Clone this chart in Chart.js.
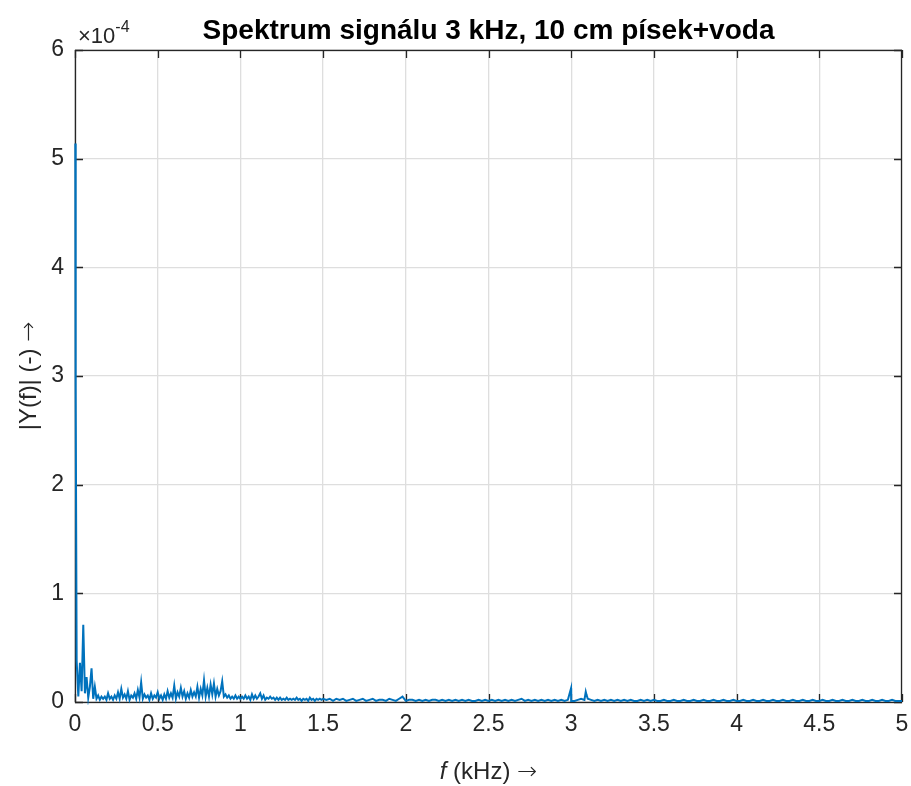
<!DOCTYPE html>
<html>
<head>
<meta charset="utf-8">
<script src="https://cdn.jsdelivr.net/npm/chart.js@4.4.0/dist/chart.umd.min.js"></script>
<style>
  html, body { margin: 0; padding: 0; background: #fff; }
  #wrap { width: 911px; height: 786px; position: relative; }
</style>
</head>
<body>
<div id="wrap"><canvas id="spectrum"></canvas></div>
<script>
// Spectrum values in units of 1e-4
const titleText = 'Spektrum signálu 3 kHz, 10 cm písek+voda';
const xTicks = [0, 0.5, 1, 1.5, 2, 2.5, 3, 3.5, 4, 4.5, 5];
const yTicks = [0, 1, 2, 3, 4, 5, 6];

// DC peak right at 0 kHz
const dcFreq = [0.002, 0.004];
const dcValue = [5.14, 2.9];

// low band: 0.01 .. 1.50 kHz, step 0.01 kHz
const lowStart = 0.01, lowStep = 0.01;
const lowBand = [
  0.38, 0.05, 0.36, 0.10, 0.71, 0.08, 0.23, 0.04, 0.14, 0.31,
  0.03, 0.14, 0.03, 0.06, 0.02, 0.05, 0.03, 0.05, 0.02, 0.08,
  0.03, 0.05, 0.02, 0.06, 0.03, 0.09, 0.03, 0.12, 0.04, 0.07,
  0.03, 0.10, 0.02, 0.06, 0.04, 0.08, 0.03, 0.11, 0.04, 0.18,
  0.03, 0.07, 0.04, 0.06, 0.02, 0.08, 0.03, 0.06, 0.04, 0.09,
  0.03, 0.06, 0.02, 0.07, 0.03, 0.10, 0.04, 0.08, 0.04, 0.15,
  0.03, 0.09, 0.05, 0.13, 0.05, 0.10, 0.03, 0.08, 0.04, 0.11,
  0.05, 0.09, 0.05, 0.14, 0.04, 0.12, 0.06, 0.20, 0.05, 0.13,
  0.05, 0.16, 0.07, 0.17, 0.05, 0.12, 0.06, 0.10, 0.19, 0.05,
  0.07, 0.04, 0.06, 0.03, 0.05, 0.03, 0.06, 0.03, 0.05, 0.03,
  0.05, 0.03, 0.06, 0.03, 0.05, 0.02, 0.07, 0.03, 0.06, 0.03,
  0.05, 0.08, 0.03, 0.06, 0.02, 0.04, 0.03, 0.05, 0.03, 0.04,
  0.02, 0.04, 0.02, 0.04, 0.02, 0.03, 0.02, 0.04, 0.02, 0.03,
  0.02, 0.03, 0.02, 0.04, 0.02, 0.03, 0.01, 0.03, 0.02, 0.03,
  0.01, 0.04, 0.02, 0.03, 0.01, 0.03, 0.02, 0.03, 0.02, 0.03
];

// high band: 1.52 .. 5.00 kHz, step 0.02 kHz
const highStart = 1.52, highStep = 0.02;
const highBand = [
  0.02, 0.03, 0.01, 0.03, 0.02, 0.03, 0.01, 0.02, 0.03, 0.01,
  0.02, 0.03, 0.01, 0.02, 0.03, 0.01, 0.02, 0.02, 0.01, 0.03,
  0.02, 0.01, 0.03, 0.05, 0.01, 0.02, 0.02, 0.01, 0.02, 0.01,
  0.02, 0.01, 0.02, 0.02, 0.01, 0.02, 0.01, 0.02, 0.01, 0.02,
  0.01, 0.02, 0.01, 0.02, 0.01, 0.01, 0.02, 0.01, 0.02, 0.01,
  0.02, 0.01, 0.02, 0.01, 0.02, 0.01, 0.02, 0.01, 0.02, 0.03,
  0.01, 0.02, 0.01, 0.02, 0.01, 0.02, 0.01, 0.02, 0.01, 0.02,
  0.01, 0.02, 0.01, 0.02, 0.01, 0.01, 0.02, 0.03, 0.02, 0.03,
  0.02, 0.01, 0.02, 0.01, 0.02, 0.01, 0.02, 0.01, 0.02, 0.01,
  0.02, 0.01, 0.02, 0.01, 0.01, 0.02, 0.01, 0.02, 0.01, 0.02,
  0.01, 0.01, 0.02, 0.01, 0.01, 0.02, 0.01, 0.01, 0.02, 0.01,
  0.01, 0.02, 0.01, 0.01, 0.02, 0.01, 0.01, 0.02, 0.01, 0.01,
  0.02, 0.01, 0.01, 0.02, 0.01, 0.01, 0.02, 0.01, 0.01, 0.02,
  0.01, 0.01, 0.02, 0.01, 0.01, 0.02, 0.01, 0.01, 0.02, 0.01,
  0.01, 0.02, 0.01, 0.01, 0.02, 0.01, 0.01, 0.02, 0.01, 0.01,
  0.02, 0.01, 0.01, 0.02, 0.01, 0.01, 0.02, 0.01, 0.01, 0.02,
  0.01, 0.01, 0.02, 0.01, 0.01, 0.02, 0.01, 0.01, 0.02, 0.01,
  0.01, 0.02, 0.01, 0.01, 0.01
];

// narrow peaks near 3 kHz
const peakFreq = [2.999, 3.088, 3.092];
const peakValue = [0.126, 0.095, 0.07];

const FONT = '"Liberation Sans", Arial, Helvetica, sans-serif';
const ARROW_FONT = '"DejaVu Sans", sans-serif';
const AX = '#262626';

function buildPoints() {
  const pts = [];
  dcFreq.forEach((f, i) => pts.push({ x: f, y: dcValue[i] }));
  lowBand.forEach((v, i) => pts.push({ x: +(lowStart + i * lowStep).toFixed(3), y: v }));
  highBand.forEach((v, i) => pts.push({ x: +(highStart + i * highStep).toFixed(3), y: v }));
  peakFreq.forEach((f, i) => pts.push({ x: f, y: peakValue[i] }));
  pts.sort((a, b) => a.x - b.x);
  return pts;
}

// box and inward ticks drawn under the data, like MATLAB
const matlabBox = {
  id: 'matlabBox',
  beforeDatasetsDraw(chart) {
    const { ctx, chartArea: a, scales } = chart;
    const xs = scales.x, ys = scales.y;
    ctx.save();
    ctx.strokeStyle = AX;
    ctx.lineWidth = 1.3;
    ctx.strokeRect(a.left + 0.5, a.top + 0.5, a.right - a.left - 1, a.bottom - a.top);
    const tl = 8;
    ctx.beginPath();
    xTicks.forEach(t => {
      const px = Math.round(xs.getPixelForValue(t)) + 0.5;
      ctx.moveTo(px, a.bottom); ctx.lineTo(px, a.bottom - tl);
      ctx.moveTo(px, a.top); ctx.lineTo(px, a.top + tl);
    });
    yTicks.forEach(t => {
      const py = Math.round(ys.getPixelForValue(t)) + 0.5;
      ctx.moveTo(a.left, py); ctx.lineTo(a.left + tl, py);
      ctx.moveTo(a.right, py); ctx.lineTo(a.right - tl, py);
    });
    ctx.stroke();
    ctx.restore();
  }
};

// titles and exponent label
const matlabText = {
  id: 'matlabText',
  afterDraw(chart) {
    const { ctx, chartArea: a } = chart;
    const cx = (a.left + a.right) / 2;
    ctx.save();
    ctx.fillStyle = '#000';
    ctx.textAlign = 'center';
    ctx.textBaseline = 'alphabetic';
    ctx.font = 'bold 28px ' + FONT;
    ctx.fillText(titleText, cx, 39);

    // exponent label
    ctx.fillStyle = AX;
    ctx.textAlign = 'left';
    ctx.font = '22px ' + FONT;
    ctx.fillText('\u00d710', a.left + 3, 43);
    const w = ctx.measureText('\u00d710').width;
    ctx.font = '16px ' + FONT;
    ctx.fillText('-4', a.left + 3 + w, 32);

    // x axis title: italic f, then unit and arrow
    ctx.font = 'italic 24px ' + FONT;
    const fW = ctx.measureText('f').width;
    ctx.font = '24px ' + FONT;
    const mid = ' (kHz) ';
    const mW = ctx.measureText(mid).width;
    ctx.font = '200 24px ' + ARROW_FONT;
    const arW = ctx.measureText('\u2192').width;
    const x0 = cx - (fW + mW + arW) / 2;
    ctx.font = 'italic 24px ' + FONT;
    ctx.fillText('f', x0, 779);
    ctx.font = '24px ' + FONT;
    ctx.fillText(mid, x0 + fW, 779);
    ctx.font = '200 24px ' + ARROW_FONT;
    ctx.fillText('\u2192', x0 + fW + mW, 779);

    // y axis title
    ctx.translate(36, (a.top + a.bottom) / 2);
    ctx.rotate(-Math.PI / 2);
    ctx.font = '24px ' + FONT;
    const yl = '|Y(f)| (-) ';
    const ylW = ctx.measureText(yl).width;
    ctx.font = '200 24px ' + ARROW_FONT;
    const yaW = ctx.measureText('\u2192').width;
    const y0 = -(ylW + yaW) / 2;
    ctx.font = '24px ' + FONT;
    ctx.fillText(yl, y0, 0);
    ctx.font = '200 24px ' + ARROW_FONT;
    ctx.fillText('\u2192', y0 + ylW, 0);
    ctx.restore();
  }
};

const ctx = document.getElementById('spectrum').getContext('2d');
new Chart(ctx, {
  type: 'line',
  data: {
    datasets: [{
      data: buildPoints(),
      borderColor: '#0072BD',
      borderWidth: 2,
      pointRadius: 0,
      tension: 0,
      fill: false,
      clip: 3
    }]
  },
  options: {
    responsive: true,
    maintainAspectRatio: false,
    animation: false,
    layout: { padding: { top: 50, right: 9, left: 0, bottom: 0 } },
    plugins: { legend: { display: false }, title: { display: false }, tooltip: { enabled: false } },
    scales: {
      x: {
        type: 'linear', min: 0, max: 5,
        afterBuildTicks: s => { s.ticks = xTicks.map(v => ({ value: v })); },
        afterFit: s => { s.height = 84; s.paddingLeft = 0; s.paddingRight = 0; },
        grid: { color: '#dedede', lineWidth: 1.3, drawTicks: false },
        border: { display: false },
        ticks: { padding: 9, color: AX, font: { family: FONT, size: 23 }, maxRotation: 0, callback: v => String(v) }
      },
      y: {
        min: 0, max: 6,
        afterBuildTicks: s => { s.ticks = yTicks.map(v => ({ value: v })); },
        afterFit: s => { s.width = 75; s.paddingTop = 0; s.paddingBottom = 0; },
        grid: { color: '#dedede', lineWidth: 1.3, drawTicks: false },
        border: { display: false },
        ticks: { padding: 11, color: AX, font: { family: FONT, size: 23 }, callback: v => String(v) }
      }
    }
  },
  plugins: [matlabBox, matlabText]
});
</script>
</body>
</html>
